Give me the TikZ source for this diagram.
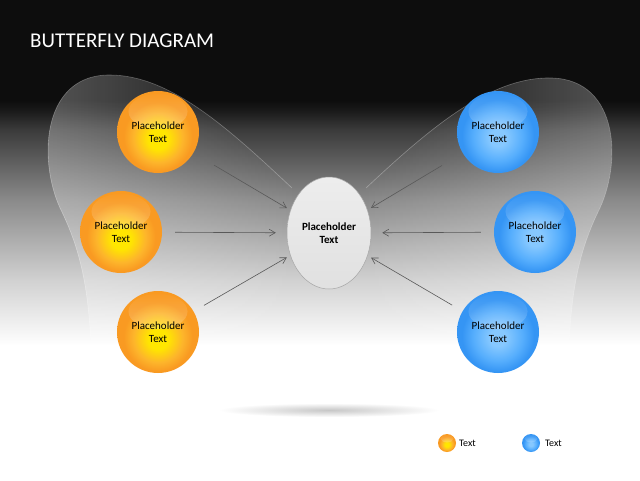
\documentclass[tikz,border=0pt]{standalone}
\usepackage{fontspec}
\setmainfont{Carlito}
\usetikzlibrary{arrows.meta,fadings,shapes.geometric}
\definecolor{oyel}{HTML}{FFE600}
\definecolor{omid}{HTML}{FDB52B}
\definecolor{oout}{HTML}{F99A22}
\definecolor{bin}{HTML}{86C8FF}
\definecolor{bmid}{HTML}{56AEFD}
\definecolor{bout}{HTML}{3595F4}
\definecolor{arrowgray}{HTML}{595959}
\pgfdeclareradialshading{oshade}{\pgfpoint{0bp}{-5bp}}{color(0bp)=(oyel); color(6bp)=(oyel); color(15bp)=(omid); color(21bp)=(oout); color(50bp)=(oout)}
\pgfdeclareradialshading{bshade}{\pgfpoint{0bp}{-4bp}}{color(0bp)=(bin); color(5bp)=(bin); color(15bp)=(bmid); color(22bp)=(bout); color(50bp)=(bout)}
\pgfdeclareverticalshading{bgshade}{100bp}{color(0bp)=(white); color(39bp)=(white); color(45.8bp)=(black!18); color(54.2bp)=(black!46); color(61.5bp)=(black!77); color(63.5bp)=(black!90); color(64.6bp)=(black!95); color(100bp)=(black!95)}
\tikzfading[name=wingL, left color=transparent!0, middle color=transparent!30, right color=transparent!100]
\tikzfading[name=wingR, left color=transparent!100, middle color=transparent!30, right color=transparent!0]
\tikzset{
  ballbase/.style={circle, minimum size=2*#1, inner sep=0pt, align=center,
    font=\fontsize{11}{13}\selectfont, text=black,
    path picture={\fill[white, opacity=.5, path fading=north]
      (path picture bounding box.center) ++(0,-0.5*#1)
      ellipse [x radius=0.72*#1, y radius=0.43*#1];}},
  oball/.style={ballbase=#1, shading=oshade},
  bball/.style={ballbase=#1, shading=bshade},
  wingedge/.style={draw=white, draw opacity=0.3, line width=0.6pt},
  conn/.style={draw=arrowgray, line width=0.6pt, -{Straight Barb[length=6pt,width=7pt]}},
  legtext/.style={font=\fontsize{10}{12}\selectfont, text=black, inner sep=0pt, anchor=west}
}
\begin{document}
\begin{tikzpicture}[x=1pt,y=-1pt]
\useasboundingbox (0,0) rectangle (640,480);
\shade[shading=bgshade] (0,0) rectangle (640,480);
% wings
\fill[white, fill opacity=0.3, path fading=wingL] (292,188) .. controls (230,130) and (170,74) .. (108,75)
  .. controls (40,76) and (38,165) .. (62,212)
  .. controls (84,258) and (90,300) .. (92,370) -- (300,370) -- cycle;
\draw[wingedge] (292,188) .. controls (230,130) and (170,74) .. (108,75)
  .. controls (40,76) and (38,165) .. (62,212)
  .. controls (84,258) and (90,300) .. (92,370);
\fill[white, fill opacity=0.3, path fading=wingR] (366,188) .. controls (428,130) and (490,76) .. (552,78)
  .. controls (620,80) and (622,165) .. (598,212)
  .. controls (576,258) and (570,300) .. (568,370) -- (360,370) -- cycle;
\draw[wingedge] (366,188) .. controls (428,130) and (490,76) .. (552,78)
  .. controls (620,80) and (622,165) .. (598,212)
  .. controls (576,258) and (570,300) .. (568,370);
% title
\node[anchor=base west, text=white, font=\fontsize{21}{25}\selectfont, inner sep=0pt] (title) at (30,47) {BUTTERFLY DIAGRAM};
% shadow
\shade[inner color=black!22, outer color=white] (329,410) ellipse (110 and 7);
% center
\node[ellipse, minimum width=84, minimum height=112, inner sep=0pt, top color=black!7, bottom color=black!12, draw=black!35, line width=0.5pt, align=center, font=\bfseries\fontsize{11}{13}\selectfont] (C) at (329,233) {Placeholder\\Text};
% spheres
\node[oball=41] (L1) at (158,132) {Placeholder\\Text};
\node[oball=41] (L2) at (121,232) {Placeholder\\Text};
\node[oball=41] (L3) at (158,332) {Placeholder\\Text};
\node[bball=41] (R1) at (498,132) {Placeholder\\Text};
\node[bball=41] (R2) at (535,232) {Placeholder\\Text};
\node[bball=41] (R3) at (498,332) {Placeholder\\Text};
% connectors
\draw[conn, shorten <=24pt, shorten >=4pt] (L1) -- (C);
\draw[conn, shorten <=13pt, shorten >=11pt] (L2) -- (C);
\draw[conn, shorten <=12pt, shorten >=4pt] (L3) -- (C);
\draw[conn, shorten <=24pt, shorten >=4pt] (R1) -- (C);
\draw[conn, shorten <=13pt, shorten >=11pt] (R2) -- (C);
\draw[conn, shorten <=12pt, shorten >=4pt] (R3) -- (C);
% legend
\node[oball=9] (LO) at (447,443) {};
\node[legtext] (LOt) at (459,443) {Text};
\node[bball=9] (LB) at (531,443) {};
\node[legtext] (LBt) at (545,443) {Text};
\end{tikzpicture}
\end{document}
